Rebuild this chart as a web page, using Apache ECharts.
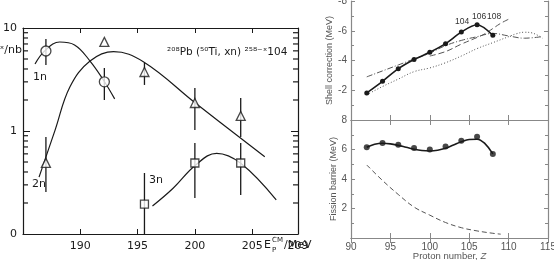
<!DOCTYPE html>
<html>
<head>
<meta charset="utf-8">
<script src="https://cdn.jsdelivr.net/npm/echarts@6/dist/echarts.min.js"></script>
<style>
  html, body { margin: 0; padding: 0; background: #fff; }
  #chart { width: 554px; height: 260px; }
</style>
</head>
<body>
<div id="chart"></div>
<script>
// ---- left panel: 208Pb(50Ti,xn) cross sections, log scale ----
const xnMinorTicks = [0.2, 0.3, 0.4, 0.5, 0.6, 0.7, 0.8, 0.9, 2, 3, 4, 5, 6, 7, 8, 9];

const oneN = [[187.0, 5.98], [192.1, 3.0]];
const oneNErr = [[187.0, 4.37, 7.83], [192.1, 2.0, 4.09]];
const oneNCurve = [[186.05, 4.47], [186.9, 6.0], [188.2, 7.31], [189.5, 6.84], [190.85, 4.78], [192.07, 3.06], [193.0, 2.05]];

const twoN = [[187.0, 0.49], [192.1, 7.33], [195.6, 3.74], [200.0, 1.87], [204.0, 1.40]];
const twoNErr = [[187.0, 0.256, 0.875], [195.6, 2.80, 4.58], [200.0, 1.02, 2.61], [204.0, 0.875, 2.09]];
const twoNCurve = [[186.4, 0.357], [187.8, 1.02], [189.1, 2.69], [190.85, 4.78], [192.9, 5.89], [195.5, 4.71], [200.07, 1.86], [206.1, 0.563]];

const threeN = [[195.6, 0.195], [200.0, 0.489], [204.0, 0.489]];
const threeNErr = [[195.6, 0.1, 0.391], [200.0, 0.224, 0.765], [204.0, 0.239, 0.765]];
const threeNCurve = [[196.3, 0.187], [198.1, 0.278], [200.07, 0.468], [201.9, 0.607], [204.0, 0.486], [207.1, 0.214]];

// ---- right panels: shell correction and fission barrier vs Z ----
const protonZ = [92, 94, 96, 98, 100, 102, 104, 106, 108];
const shellCorr = [-1.82, -2.6, -3.45, -4.07, -4.55, -5.13, -5.91, -6.4, -5.69];
const dashDotZ = [92, 94, 96, 98, 100, 102, 104, 106, 108, 110, 112, 114.2];
const dashDotVal = [-2.9, -3.3, -3.7, -4.1, -4.5, -5.0, -5.35, -5.6, -5.82, -5.65, -5.5, -5.6];
const longDashZ = [100, 102, 104, 106, 107, 108, 109, 110.1];
const longDashVal = [-4.3, -4.6, -5.1, -5.55, -5.8, -6.15, -6.5, -6.8];
const dottedZ = [92, 94, 96, 98, 100, 102, 104, 106, 108, 110, 111, 112, 113, 114.3];
const dottedVal = [-1.7, -2.25, -2.75, -3.25, -3.5, -3.85, -4.3, -4.8, -5.2, -5.6, -5.8, -5.9, -5.85, -5.5];

const barrier = [6.15, 6.44, 6.33, 6.11, 6.0, 6.2, 6.6, 6.87, 5.69];
const barrierFitZ = [92, 93, 94, 95, 96, 97, 98, 99, 100, 101, 102, 103, 104, 105, 106, 107, 108];
const barrierFit = [6.15, 6.35, 6.42, 6.38, 6.28, 6.15, 6.02, 5.93, 5.9, 5.95, 6.08, 6.3, 6.52, 6.68, 6.7, 6.4, 5.7];
const ldBarrierZ = [92, 94, 96, 98, 100, 102, 104, 106, 108, 109];
const ldBarrier = [4.95, 3.9, 2.95, 2.1, 1.55, 1.05, 0.7, 0.48, 0.32, 0.26];

const zip = (xs, ys) => xs.map((x, i) => [x, ys[i]]);

const ink = '#1a1a1a';
const grey = '#888';
const greyText = '#555';
const oldFont = 'DejaVu Sans';
const newFont = 'Liberation Sans';

const chart = echarts.init(document.getElementById('chart'), null, { renderer: 'canvas' });

function errBars(data) {
  return {
    type: 'custom', xAxisIndex: 0, yAxisIndex: 0, data: data,
    encode: { x: 0, y: [1, 2] }, silent: true, z: 3,
    renderItem: (params, api) => {
      const x = api.value(0);
      const lo = api.coord([x, api.value(1)]);
      const hi = api.coord([x, api.value(2)]);
      return { type: 'line', shape: { x1: lo[0], y1: lo[1], x2: hi[0], y2: hi[1] }, style: { stroke: ink, lineWidth: 1.3 } };
    }
  };
}

// log-scale minor ticks, one line per item, same pattern as the error bars
function minorTicks(side) {
  return {
    type: 'custom', xAxisIndex: 0, yAxisIndex: 0, silent: true, z: 3,
    data: xnMinorTicks.map(v => [197, v]), encode: { x: 0, y: 1 },
    renderItem: (params, api) => {
      const cs = params.coordSys;
      const y = api.coord([api.value(0), api.value(1)])[1];
      const x0 = side === 'left' ? cs.x : cs.x + cs.width;
      const x1 = side === 'left' ? x0 + 5 : x0 - 5;
      return { type: 'line', shape: { x1: x0, y1: y, x2: x1, y2: y }, style: { stroke: ink, lineWidth: 1.2 } };
    }
  };
}

function curve(data, xi, yi, color, dash, width) {
  return {
    type: 'line', xAxisIndex: xi, yAxisIndex: yi, data: data, smooth: 0.4,
    showSymbol: false, silent: true,
    lineStyle: { color: color, width: width || 1.2, type: dash || 'solid' }
  };
}

function markers(data, symbol, size) {
  return {
    type: 'scatter', xAxisIndex: 0, yAxisIndex: 0, data: data, symbol: symbol, symbolSize: size,
    itemStyle: { color: '#fff', borderColor: ink, borderWidth: 1.3 }, z: 5
  };
}

const baseX = (grid, pos, min, max, color) => ({
  type: 'value', gridIndex: grid, position: pos, min: min, max: max, interval: 5,
  axisLine: { show: true, lineStyle: { color: color, width: 1.2 } },
  axisTick: { show: true, inside: true, length: 5, lineStyle: { color: color } },
  splitLine: { show: false },
  axisLabel: { show: false }
});

// log axis: max a hair above 10 so the top decade tick survives rounding
const logMax = 10.0001;
const logLabel = v => (v < 0.5 ? '0' : v < 5 ? '1' : Math.abs(v - 10) < 1e-6 ? '10' : '');

const texts = [
  { type: 'text', right: 532, top: 45, style: { text: 'σˣ/nb', fill: ink, font: '11px DejaVu Sans' } },
  { type: 'text', left: 33, top: 72, style: { text: '1n', fill: ink, font: '11px DejaVu Sans' } },
  { type: 'text', left: 32, top: 179, style: { text: '2n', fill: ink, font: '11px DejaVu Sans' } },
  { type: 'text', left: 149, top: 175, style: { text: '3n', fill: ink, font: '11px DejaVu Sans' } },
  { type: 'text', left: 167, top: 47, style: { text: '²⁰⁸Pb (⁵⁰Ti, xn) ²⁵⁸⁻ˣ104', fill: ink, font: '10.5px DejaVu Sans' } },
  { type: 'text', left: 264, top: 240, style: { text: 'E', fill: ink, font: '11px DejaVu Sans' } },
  { type: 'text', left: 272, top: 237, style: { text: 'CM', fill: ink, font: '7px DejaVu Sans' } },
  { type: 'text', left: 272, top: 247, style: { text: 'P', fill: ink, font: '7px DejaVu Sans' } },
  { type: 'text', left: 284, top: 240, style: { text: '/MeV', fill: ink, font: '11px DejaVu Sans' } },
  { type: 'text', left: 455, top: 17, style: { text: '104', fill: '#333', font: '8.5px Liberation Sans' } },
  { type: 'text', left: 472, top: 12, style: { text: '106', fill: '#333', font: '8.5px Liberation Sans' } },
  { type: 'text', left: 487, top: 12, style: { text: '108', fill: '#333', font: '8.5px Liberation Sans' } }
];

const option = {
  animation: false,
  backgroundColor: '#fff',
  grid: [
    { left: 23, top: 28, width: 275, height: 206, outerBoundsMode: 'none' },
    { left: 351, top: 1, width: 197, height: 119, outerBoundsMode: 'none' },
    { left: 351, top: 120, width: 197, height: 118, outerBoundsMode: 'none' }
  ],
  xAxis: [
    Object.assign(baseX(0, 'bottom', 185, 209, ink), {
      axisLabel: { show: true, margin: 7, color: ink, fontFamily: oldFont, fontSize: 11,
        formatter: v => (v === 185 ? '' : String(v)) }
    }),
    baseX(0, 'top', 185, 209, ink),
    baseX(1, 'bottom', 90, 115, grey),
    baseX(1, 'top', 90, 115, grey),
    Object.assign(baseX(2, 'bottom', 90, 115, grey), {
      axisLabel: { show: true, margin: 4, color: greyText, fontFamily: newFont, fontSize: 10 },
      name: 'Proton number, {i|Z}', nameLocation: 'middle', nameGap: 13, nameMoveOverlap: false,
      nameTextStyle: { color: greyText, fontFamily: newFont, fontSize: 9.5, rich: { i: { fontStyle: 'italic', color: greyText, fontFamily: newFont, fontSize: 9.5 } } }
    }),
    baseX(2, 'top', 90, 115, grey)
  ],
  yAxis: [
    {
      type: 'log', gridIndex: 0, position: 'left', min: 0.1, max: logMax, logBase: 10,
      axisLine: { show: true, lineStyle: { color: ink, width: 1.2 } },
      axisTick: { show: true, inside: true, length: 7, lineStyle: { color: ink } },
      splitLine: { show: false },
      axisLabel: { margin: 6, color: ink, fontFamily: oldFont, fontSize: 11, showMinLabel: true, showMaxLabel: true, formatter: logLabel }
    },
    {
      type: 'log', gridIndex: 0, position: 'right', min: 0.1, max: logMax, logBase: 10,
      axisLine: { show: true, lineStyle: { color: ink, width: 1.2 } },
      axisTick: { show: true, inside: true, length: 7, lineStyle: { color: ink } },
      splitLine: { show: false }, axisLabel: { show: false }
    },
    {
      type: 'value', gridIndex: 1, position: 'left', min: -8, max: 0, interval: 2, inverse: true,
      axisLine: { show: true, lineStyle: { color: grey, width: 1.2 } },
      axisTick: { show: true, inside: true, length: 4, lineStyle: { color: grey } },
      minorTick: { show: true, splitNumber: 2, length: 3, lineStyle: { color: grey } },
      splitLine: { show: false },
      axisLabel: { margin: 4, color: greyText, fontFamily: newFont, fontSize: 10, showMaxLabel: true, formatter: v => (v === 0 ? '' : String(v)) },
      name: 'Shell correction (MeV)', nameLocation: 'middle', nameGap: 8,
      nameTextStyle: { color: greyText, fontFamily: newFont, fontSize: 9 }
    },
    {
      type: 'value', gridIndex: 1, position: 'right', min: -8, max: 0, interval: 2, inverse: true,
      axisLine: { show: true, lineStyle: { color: grey, width: 1.2 } },
      axisTick: { show: true, inside: true, length: 4, lineStyle: { color: grey } },
      minorTick: { show: true, splitNumber: 2, length: 3, lineStyle: { color: grey } },
      splitLine: { show: false }, axisLabel: { show: false }
    },
    {
      type: 'value', gridIndex: 2, position: 'left', min: 0, max: 8, interval: 2,
      axisLine: { show: true, lineStyle: { color: grey, width: 1.2 } },
      axisTick: { show: true, inside: true, length: 4, lineStyle: { color: grey } },
      minorTick: { show: true, splitNumber: 2, length: 3, lineStyle: { color: grey } },
      splitLine: { show: false },
      axisLabel: { margin: 4, color: greyText, fontFamily: newFont, fontSize: 10, showMaxLabel: true, formatter: v => (v === 0 ? '' : String(v)) },
      name: 'Fission barrier (MeV)', nameLocation: 'middle', nameGap: 8,
      nameTextStyle: { color: greyText, fontFamily: newFont, fontSize: 9 }
    },
    {
      type: 'value', gridIndex: 2, position: 'right', min: 0, max: 8, interval: 2,
      axisLine: { show: true, lineStyle: { color: grey, width: 1.2 } },
      axisTick: { show: true, inside: true, length: 4, lineStyle: { color: grey } },
      minorTick: { show: true, splitNumber: 2, length: 3, lineStyle: { color: grey } },
      splitLine: { show: false }, axisLabel: { show: false }
    }
  ],
  series: [
    curve(oneNCurve, 0, 0, ink),
    curve(twoNCurve, 0, 0, ink),
    curve(threeNCurve, 0, 0, ink),
    errBars(oneNErr),
    errBars(twoNErr),
    errBars(threeNErr),
    minorTicks('left'),
    minorTicks('right'),
    markers(oneN, 'circle', 10),
    markers(twoN, 'triangle', 9),
    markers(threeN, 'rect', 8),

    // shell correction panel
    curve(zip(dottedZ, dottedVal), 2, 2, '#555', [1, 2], 1),
    curve(zip(dashDotZ, dashDotVal), 2, 2, '#555', [6, 2, 1, 2], 1),
    curve(zip(longDashZ, longDashVal), 2, 2, '#555', [6, 3], 1),
    {
      type: 'line', xAxisIndex: 2, yAxisIndex: 2, data: zip(protonZ, shellCorr), smooth: 0.3,
      symbol: 'circle', symbolSize: 5, itemStyle: { color: ink },
      lineStyle: { color: ink, width: 1.6 }, z: 5
    },

    // fission barrier panel
    curve(zip(barrierFitZ, barrierFit), 4, 4, ink, 'solid', 1.6),
    curve(zip(ldBarrierZ, ldBarrier), 4, 4, '#555', [5, 3], 1),
    {
      type: 'scatter', xAxisIndex: 4, yAxisIndex: 4, data: zip(protonZ, barrier),
      symbol: 'circle', symbolSize: 6, itemStyle: { color: ink }, z: 5
    }
  ],
  graphic: texts
};

chart.setOption(option);
</script>
</body>
</html>
